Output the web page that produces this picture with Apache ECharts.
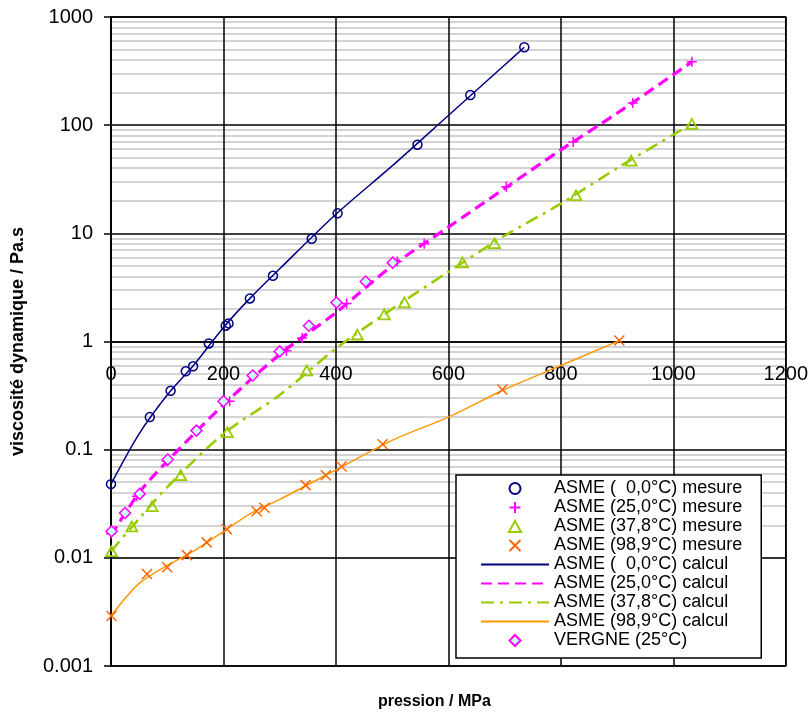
<!DOCTYPE html>
<html><head><meta charset="utf-8">
<script src="https://cdn.jsdelivr.net/npm/echarts@6/dist/echarts.min.js"></script>
<style>html,body{margin:0;padding:0;background:#fff}#c{width:811px;height:715px}</style>
</head><body><div id="c"></div>
<script>
// ---- data (pression MPa, viscosité Pa.s) ----
const xTicks = [0, 200, 400, 600, 800, 1000, 1200];
const yTickLabels = ['0.001', '0.01', '0.1', '1', '10', '100', '1000'];

const mes0 = [[0,0.048],[69,0.2],[106,0.35],[133,0.53],[146,0.59],[174,0.96],[204,1.4],[209,1.47],[247,2.5],[288,4.05],[357,8.9],[403,15.3],[545,66],[639,190],[735,525]];
const mes25 = [[0,0.0167],[46,0.037],[99,0.078],[211,0.28],[312,0.82],[340,1.08],[419,2.24],[509,5.5],[557,8.0],[703,27],[822,70],[928,160],[1033,385]];
const mes378 = [[1,0.0115],[37,0.0195],[73,0.03],[124,0.058],[207,0.145],[348,0.54],[438,1.16],[486,1.78],[522,2.3],[625,5.4],[682,8.1],[827,22.5],[925,47],[1033,103]];
const mes989 = [[1,0.0029],[64,0.0071],[100,0.0082],[135,0.0106],[170,0.0139],[206,0.0184],[259,0.027],[273,0.029],[346,0.047],[382,0.058],[410,0.070],[483,0.112],[696,0.36],[904,1.02]];

const calc0 = [[0,0.048],[50,0.14],[100,0.32],[150,0.63],[200,1.35],[250,2.6],[300,4.7],[400,15],[500,42],[600,123],[700,360],[735,525]];
const calc25 = [[0,0.016],[50,0.04],[100,0.078],[200,0.26],[300,0.76],[400,1.85],[500,5.0],[600,11.4],[700,26],[800,59],[900,129],[1033,385]];
const calc378 = [[0,0.0115],[50,0.023],[100,0.045],[200,0.14],[300,0.32],[400,0.86],[500,2.0],[600,4.4],[700,9.5],[800,18.8],[900,40],[1033,103]];
const calc989 = [[0,0.0029],[50,0.0058],[100,0.0085],[150,0.0118],[200,0.0175],[250,0.026],[300,0.0347],[400,0.065],[500,0.122],[600,0.2],[700,0.36],[800,0.6],[904,1.02]];

const vergne = [[1,0.0176],[25,0.026],[51,0.039],[101,0.081],[152,0.15],[200,0.28],[252,0.485],[300,0.81],[352,1.4],[401,2.29],[453,3.58],[501,5.36]];

const names = ['ASME (  0,0°C) mesure','ASME (25,0°C) mesure','ASME (37,8°C) mesure','ASME (98,9°C) mesure',
  'ASME (  0,0°C) calcul','ASME (25,0°C) calcul','ASME (37,8°C) calcul','ASME (98,9°C) calcul','VERGNE (25°C)'];

// minor gridline positions (2..9 x 10^k)
const minorLines = [];
for (let k = -3; k < 3; k++) for (let m = 2; m <= 9; m++) minorLines.push({yAxis: +(m * Math.pow(10, k)).toPrecision(2)});

const FONT = 'Liberation Sans, Arial, sans-serif';
const chart = echarts.init(document.getElementById('c'));
const plusPath = 'path://M5,0L5,10M0,5L10,5';
const crossPath = 'path://M0,0L10,10M10,0L0,10';
const triPath = 'path://M5,0L10,9L0,9Z';
const diaPath = 'path://M5,0L10,5L5,10L0,5Z';

function scatter(name, data, symbol, size, stroke, fill, bw) {
  return {name, type:'scatter', data, symbol, symbolSize:size, z:5, symbolKeepAspect:true,
    itemStyle:{color:fill, borderColor:stroke, borderWidth:bw, opacity:1}};
}
function calc(name, data, color, width, type) {
  return {name, type:'line', data, symbol:'none', smooth:0.3, z:3,
    lineStyle:{color, width, type}, itemStyle:{color}};
}

const legendData = names.map((n, i) => {
  if (i >= 4 && i <= 7) return {name:n, itemStyle:{opacity:0}};
  if (i === 2) return {name:n, icon:triPath};
  if (i === 8) return {name:n, icon:diaPath};
  return {name:n};
});

chart.setOption({
  animation:false,
  backgroundColor:'#fff',
  textStyle:{fontFamily:FONT},
  grid:{left:111, right:24, top:17, bottom:48, show:true, borderColor:'#000', borderWidth:1.5, backgroundColor:'transparent'},
  legend:{
    orient:'vertical', left:456, top:475,
    data:legendData, itemWidth:68, itemHeight:11, itemGap:0, symbolKeepAspect:true,
    padding:[4, 19, 8, 24],
    backgroundColor:'#fff', borderColor:'#000', borderWidth:1.5,
    textStyle:{fontSize:18, color:'#000', lineHeight:19, fontFamily:FONT},
    selectedMode:false
  },
  xAxis:{
    type:'value', min:0, max:1200, interval:200, offset:-324,
    axisLine:{show:true, lineStyle:{color:'#000', width:1.5}},
    axisTick:{show:false},
    axisLabel:{fontSize:20, color:'#000', margin:22, fontFamily:FONT, showMinLabel:true, showMaxLabel:true,
      formatter:v => String(xTicks[xTicks.indexOf(v)])},
    splitLine:{show:true, lineStyle:{color:'#000', width:1.5}},
    name:'pression / MPa', nameLocation:'middle', nameGap:352,
    nameTextStyle:{fontSize:16, fontWeight:'bold', color:'#000', padding:[0,28,0,0], fontFamily:FONT}
  },
  yAxis:{
    type:'log', logBase:10, min:0.001, max:1000,
    axisLine:{show:true, lineStyle:{color:'#000', width:1.5}},
    axisTick:{show:true, inside:false, length:7, lineStyle:{color:'#000', width:1.5}},
    axisLabel:{fontSize:20, color:'#000', margin:18, fontFamily:FONT,
      formatter:v => yTickLabels[Math.round(Math.log10(v)) + 3]},
    splitLine:{show:true, lineStyle:{color:'#000', width:1.5}},
    name:'viscosité dynamique / Pa.s', nameLocation:'middle', nameGap:84,
    nameTextStyle:{fontSize:18, fontWeight:'bold', color:'#000', fontFamily:FONT}
  },
  series:[
    {name:'minor', type:'line', data:[], z:-1, silent:true,
      markLine:{silent:true, z:-1, symbol:'none', label:{show:false}, animation:false,
        lineStyle:{color:'#c4c4c4', width:1.6, type:'solid'}, data:minorLines}},
    calc(names[4], calc0, '#000080', 1.5, 'solid'),
    calc(names[5], calc25, '#FF00FF', 3.2, [11, 6]),
    calc(names[6], calc378, '#99CC00', 2.6, [13, 6, 3, 6]),
    calc(names[7], calc989, '#FF9900', 1.5, 'solid'),
    scatter(names[0], mes0, 'circle', 9, '#000080', 'rgba(0,0,0,0)', 1.5),
    scatter(names[1], mes25, plusPath, 10, '#FF00FF', 'rgba(0,0,0,0)', 1.5),
    scatter(names[2], mes378, triPath, 11, '#99CC00', 'rgba(0,0,0,0)', 1.8),
    scatter(names[3], mes989, crossPath, 10, '#FF6600', 'rgba(0,0,0,0)', 1.5),
    scatter(names[8], vergne, diaPath, 11, '#FF00FF', '#CCFFFF', 1.5)
  ]
});
</script></body></html>
